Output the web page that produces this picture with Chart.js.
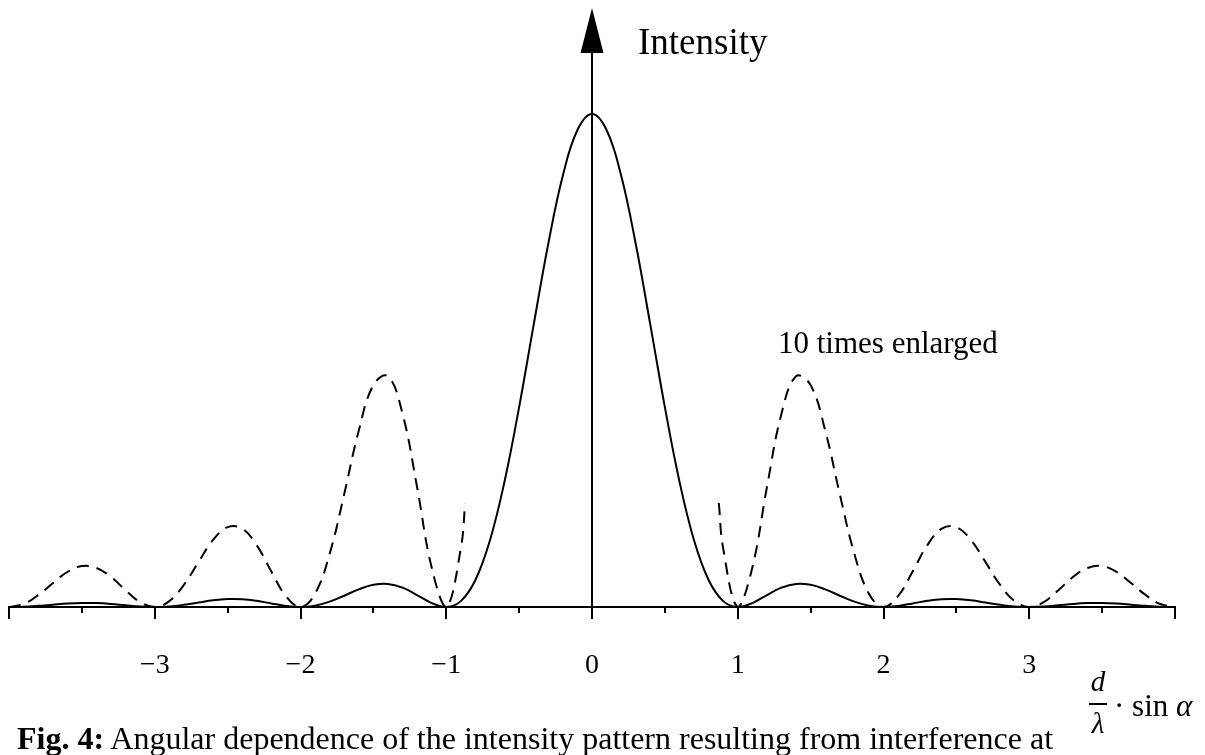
<!DOCTYPE html>
<html lang="en">
<head>
<meta charset="UTF-8">
<title>Fig. 4 - Angular dependence of the intensity pattern</title>
<script src="https://cdn.jsdelivr.net/npm/chart.js"></script>
<style>
  body { margin: 0; background: #fff; color: #000; font-family: "Liberation Serif", "Times New Roman", serif; }
  #wrap { position: relative; width: 1205px; height: 755px; overflow: hidden; }
  #box { position: absolute; left: 0; top: 0; width: 1205px; height: 755px; }
  .lbl { position: absolute; line-height: 1; white-space: nowrap; }
</style>
</head>
<body>
<div id="wrap">
  <div id="box"><canvas id="chart"></canvas></div>

  <!-- texts -->
  <div class="lbl" style="left:638px;top:23px;font-size:37px">Intensity</div>
  <div class="lbl" style="left:778px;top:327px;font-size:31px">10 times enlarged</div>
  <div class="lbl" style="left:17px;top:722px;font-size:32px"><b>Fig. 4:</b> Angular dependence of the intensity pattern resulting from interference at</div>

  <div class="lbl" style="left:1083px;top:667px;width:30px;text-align:center;font-size:29px;font-style:italic">d</div>
  <div style="position:absolute;left:1089px;top:703px;width:18px;height:2px;background:#000"></div>
  <div class="lbl" style="left:1083px;top:709px;width:30px;text-align:center;font-size:29px;font-style:italic">λ</div>
  <div class="lbl" style="left:1114px;top:690px;font-size:31px">· sin <i>α</i></div>
</div>

<script>
  // x positions (d/lambda * sin alpha)
  const xs = [-4, -3.9, -3.8, -3.7, -3.6, -3.5, -3.4, -3.3, -3.2, -3.1,
              -3, -2.9, -2.8, -2.7, -2.6, -2.5, -2.4, -2.3, -2.2, -2.1,
              -2, -1.9, -1.8, -1.7, -1.6, -1.5, -1.4, -1.3, -1.2, -1.1,
              -1, -0.9, -0.8, -0.7, -0.6, -0.5, -0.4, -0.3, -0.2, -0.1,
              0, 0.1, 0.2, 0.3, 0.4, 0.5, 0.6, 0.7, 0.8, 0.9,
              1, 1.1, 1.2, 1.3, 1.4, 1.5, 1.6, 1.7, 1.8, 1.9,
              2, 2.1, 2.2, 2.3, 2.4, 2.5, 2.6, 2.7, 2.8, 2.9,
              3, 3.1, 3.2, 3.3, 3.4, 3.5, 3.6, 3.7, 3.8, 3.9, 4];

  // intensity (solid line)
  const intensity = [0, 0.0006, 0.0024, 0.0048, 0.0071, 0.0083, 0.0079, 0.0061, 0.0034, 0.0010,
                     0, 0.0012, 0.0045, 0.0091, 0.0136, 0.0162, 0.0159, 0.0125, 0.0072, 0.0022,
                     0, 0.0027, 0.0108, 0.0229, 0.0358, 0.0450, 0.0468, 0.0392, 0.0243, 0.0080,
                     0, 0.0119, 0.0547, 0.1353, 0.2546, 0.4053, 0.5728, 0.7368, 0.8751, 0.9675,
                     1, 0.9675, 0.8751, 0.7368, 0.5728, 0.4053, 0.2546, 0.1353, 0.0547, 0.0119,
                     0, 0.0080, 0.0243, 0.0392, 0.0468, 0.0450, 0.0358, 0.0229, 0.0108, 0.0027,
                     0, 0.0022, 0.0072, 0.0125, 0.0159, 0.0162, 0.0136, 0.0091, 0.0045, 0.0012,
                     0, 0.0010, 0.0034, 0.0061, 0.0079, 0.0083, 0.0071, 0.0048, 0.0024, 0.0006, 0];

  // 10 times enlarged (dashed), gap in the middle
  const enlargedX = [-4, -3.9, -3.8, -3.7, -3.6, -3.5, -3.4, -3.3, -3.2, -3.1,
                     -3, -2.9, -2.8, -2.7, -2.6, -2.5, -2.4, -2.3, -2.2, -2.1,
                     -2, -1.9, -1.8, -1.7, -1.6, -1.5, -1.4, -1.3, -1.2, -1.1,
                     -1, -0.9, -0.87, 0, 0.87, 0.9, 1,
                     1.1, 1.2, 1.3, 1.4, 1.5, 1.6, 1.7, 1.8, 1.9, 2,
                     2.1, 2.2, 2.3, 2.4, 2.5, 2.6, 2.7, 2.8, 2.9, 3,
                     3.1, 3.2, 3.3, 3.4, 3.5, 3.6, 3.7, 3.8, 3.9, 4];
  const enlarged = [0, 0.006, 0.024, 0.048, 0.071, 0.083, 0.079, 0.061, 0.034, 0.010,
                    0, 0.012, 0.045, 0.091, 0.136, 0.162, 0.159, 0.125, 0.072, 0.022,
                    0, 0.027, 0.108, 0.229, 0.358, 0.450, 0.468, 0.392, 0.243, 0.080,
                    0, 0.119, 0.211, null, 0.211, 0.119, 0,
                    0.080, 0.243, 0.392, 0.468, 0.450, 0.358, 0.229, 0.108, 0.027, 0,
                    0.022, 0.072, 0.125, 0.159, 0.162, 0.136, 0.091, 0.045, 0.012, 0,
                    0.010, 0.034, 0.061, 0.079, 0.083, 0.071, 0.048, 0.024, 0.006, 0];

  const tickLabels = [-3, -2, -1, 0, 1, 2, 3];
  const majorTicks = [-4, -3, -2, -1, 0, 1, 2, 3, 4];
  const minorTicks = [-3.5, -2.5, -1.5, -0.5, 0.5, 1.5, 2.5, 3.5];

  // y axis with arrow + tick marks on x axis
  const axesPlugin = {
    id: 'axes',
    afterDatasetsDraw(chart) {
      const { ctx, chartArea, scales } = chart;
      const b = chartArea.bottom;
      const x0 = Math.round(scales.x.getPixelForValue(0));
      ctx.save();
      ctx.strokeStyle = '#000';
      ctx.fillStyle = '#000';
      ctx.lineWidth = 2;
      ctx.beginPath();
      majorTicks.forEach(v => {
        const px = Math.round(scales.x.getPixelForValue(v));
        ctx.moveTo(px, b); ctx.lineTo(px, b + 12);
      });
      minorTicks.forEach(v => {
        const px = Math.round(scales.x.getPixelForValue(v));
        ctx.moveTo(px, b); ctx.lineTo(px, b + 6);
      });
      ctx.moveTo(x0, b);
      ctx.lineTo(x0, chartArea.top + 44);
      ctx.stroke();
      ctx.beginPath();
      ctx.moveTo(x0, chartArea.top);
      ctx.lineTo(x0 - 11.5, chartArea.top + 45);
      ctx.lineTo(x0 + 11.5, chartArea.top + 45);
      ctx.closePath();
      ctx.fill();
      ctx.restore();
    }
  };

  const ctx = document.getElementById('chart').getContext('2d');
  const chart = new Chart(ctx, {
    type: 'line',
    data: {
      datasets: [
        {
          label: 'Intensity',
          data: xs.map((x, i) => ({ x: x, y: intensity[i] })),
          borderColor: '#000',
          borderWidth: 2,
          pointRadius: 0,
          tension: 0.4,
          fill: false
        },
        {
          label: '10 times enlarged',
          data: enlargedX.map((x, i) => ({ x: x, y: enlarged[i] })),
          borderColor: '#000',
          borderWidth: 2,
          borderDash: [12, 8],
          pointRadius: 0,
          tension: 0.4,
          spanGaps: false,
          fill: false
        }
      ]
    },
    options: {
      responsive: true,
      maintainAspectRatio: false,
      animation: false,
      events: [],
      layout: { padding: { left: 9, right: 30, top: 8, bottom: 0 } },
      plugins: {
        legend: { display: false },
        tooltip: { enabled: false }
      },
      scales: {
        x: {
          type: 'linear',
          min: -4,
          max: 4,
          afterBuildTicks: s => { s.ticks = tickLabels.map(v => ({ value: v })); },
          afterFit: s => { s.height = 148; },
          grid: { display: false },
          border: { display: true, color: '#000', width: 2 },
          ticks: {
            color: '#000',
            padding: 34,
            maxRotation: 0,
            autoSkip: false,
            font: { family: 'Liberation Serif', size: 28 },
            callback: v => (v < 0 ? '\u2212' + Math.abs(v) : String(v))
          }
        },
        y: {
          display: false,
          min: 0,
          max: 1.215
        }
      }
    },
    plugins: [axesPlugin]
  });
</script>
</body>
</html>
